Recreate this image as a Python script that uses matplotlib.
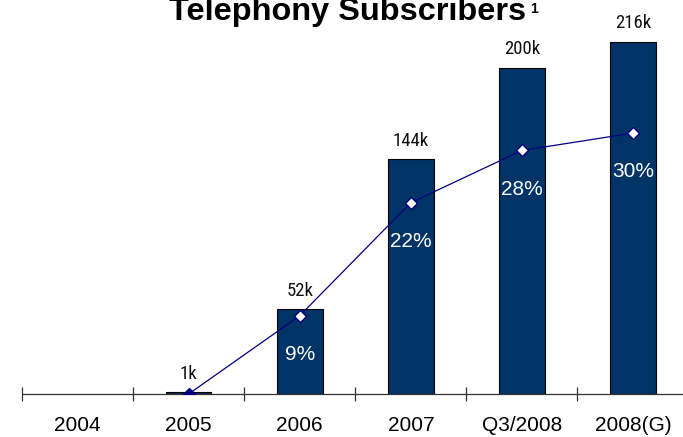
import matplotlib.pyplot as plt
from matplotlib import font_manager
import numpy as np

years = ['2004', '2005', '2006', '2007', 'Q3/2008', '2008(G)']
subs = [0, 1, 52, 144, 200, 216]          # thousands
sub_labels = ['', '1k', '52k', '144k', '200k', '216k']
pen_x = [1, 2, 3, 4, 5]
pen = [0, 9, 22, 28, 30]                  # percent
pen_labels = ['', '9%', '22%', '28%', '30%']

bar_col = '#003366'
line_col = '#000080'

# narrow face for the value labels, if one is installed
names = {f.name for f in font_manager.fontManager.ttflist}
narrow = {'family': 'Liberation Sans'}
for cand in ['Liberation Sans Narrow', 'Arial Narrow', 'Roboto Condensed', 'Open Sans Condensed']:
    if cand in names:
        narrow = {'family': cand}
        break
else:
    cond = [f for f in font_manager.fontManager.ttflist
            if f.name == 'DejaVu Sans' and 'ondensed' in f.fname and f.style == 'normal' and f.weight == 400]
    if cond:
        narrow = {'fname': cond[0].fname}

fig = plt.figure(figsize=(6.83, 4.37), dpi=100)
ax = fig.add_axes([22 / 683, 1 - 394 / 437, 661 / 683, 394 / 437])
x = np.arange(len(years))

ax.bar(x[1:], subs[1:], width=0.41, color=bar_col, edgecolor='black', linewidth=0.8, zorder=2)
ax.set_xlim(-0.5, 5.45)
ax.set_ylim(0, 241.8)

if 'fname' in narrow:
    lab_font = font_manager.FontProperties(fname=narrow['fname'], size=13.5)
else:
    lab_font = font_manager.FontProperties(family=narrow['family'], size=13.5)
for xi, v, lab in zip(x, subs, sub_labels):
    if lab:
        ax.annotate(lab, (xi, v), xytext=(0, 7), textcoords='offset points',
                    ha='center', va='bottom', fontproperties=lab_font, color='#111111')

for s in ['top', 'right', 'left']:
    ax.spines[s].set_visible(False)
ax.spines['bottom'].set_color('#333333')
ax.spines['bottom'].set_linewidth(0.9)
ax.set_yticks([])
ax.set_xticks(x)
ax.set_xticklabels(years, fontsize=15, family='Liberation Sans')
ax.tick_params(axis='x', which='major', length=0, pad=16)
ax.set_xticks(np.arange(-0.5, 5, 1), minor=True)
ax.tick_params(axis='x', which='minor', length=10, direction='inout', color='#333333', width=0.9)

# penetration line on a second scale
ax2 = ax.twinx()
ax2.set_ylim(0, 45.3)
ax2.axis('off')
ax2.plot(pen_x, pen, color=line_col, linewidth=0.9, zorder=3)
ax2.plot(pen_x[1:], pen[1:], linestyle='none', marker='D', markersize=6,
         markerfacecolor='white', markeredgecolor=line_col, markeredgewidth=1, zorder=4)
ax2.plot(pen_x[:1], pen[:1], linestyle='none', marker='D', markersize=6,
         markerfacecolor=line_col, markeredgecolor=line_col, zorder=4)
for xi, v, lab in zip(pen_x, pen, pen_labels):
    if lab:
        ax2.annotate(lab, (xi, v), xytext=(0, -28), textcoords='offset points',
                     ha='center', va='center', fontsize=15, color='white',
                     family='Liberation Sans', zorder=5)

fig.text(348 / 683, 1 - 20 / 437, 'Telephony Subscribers', ha='center', va='baseline',
         fontsize=23.4, fontweight='bold', family='Liberation Sans')
fig.text(530 / 683, 1 - 13 / 437, '1', ha='left', va='baseline',
         fontsize=10, fontweight='bold', family='Liberation Sans')

fig.savefig('out.png', dpi=100)
